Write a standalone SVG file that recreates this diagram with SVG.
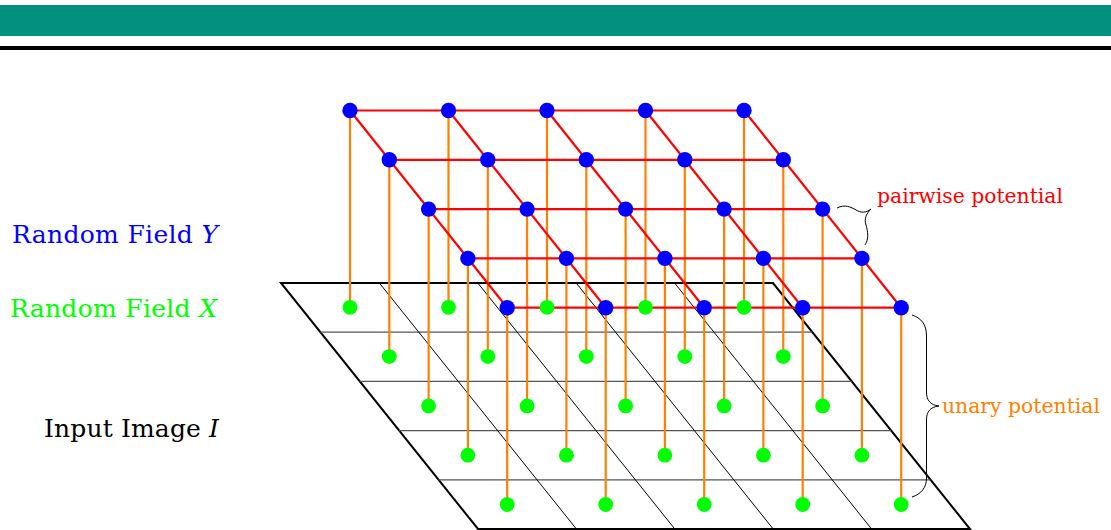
<svg xmlns="http://www.w3.org/2000/svg" width="1111" height="530" viewBox="0 0 1111 530">
<style>
.lbl{font-family:"DejaVu Serif","Liberation Serif",serif;font-size:25px}
.sm{font-size:21px}
.it{font-style:italic}
.plane{fill:none;stroke:#000;stroke-width:2;stroke-linejoin:miter}
.hl{stroke:#555;stroke-width:1.2}
.sl{stroke:#000;stroke-width:1}
.un{stroke:#ff8000;stroke-width:2.2}
.pw{stroke:#ff0000;stroke-width:2.2}
.y{fill:#0000ff}
.x{fill:#00ff00}
.brace{fill:none;stroke:#000;stroke-width:1}
</style>
<rect x="0" y="5" width="1111" height="31" fill="#03907f"/>
<rect x="0" y="46" width="1111" height="4" fill="#000"/>
<g id="input-image">
<polygon class="plane" points="281,283 773,283 970,529 478,529"/>
<line class="hl" x1="320.2" y1="332.2" x2="812.2" y2="332.2"/>
<line class="hl" x1="359.6" y1="381.4" x2="851.6" y2="381.4"/>
<line class="hl" x1="399" y1="430.6" x2="891" y2="430.6"/>
<line class="hl" x1="438.4" y1="479.8" x2="930.4" y2="479.8"/>
<line class="sl" x1="379.4" y1="283" x2="576.4" y2="529"/>
<line class="sl" x1="477.8" y1="283" x2="674.8" y2="529"/>
<line class="sl" x1="576.2" y1="283" x2="773.2" y2="529"/>
<line class="sl" x1="674.6" y1="283" x2="871.6" y2="529"/>
</g>
<g id="connectors">
<g id="unary">
<line class="un" x1="350" y1="110.5" x2="350" y2="307.3"/>
<line class="un" x1="448.5" y1="110.5" x2="448.5" y2="307.3"/>
<line class="un" x1="547" y1="110.5" x2="547" y2="307.3"/>
<line class="un" x1="645.5" y1="110.5" x2="645.5" y2="307.3"/>
<line class="un" x1="744" y1="110.5" x2="744" y2="307.3"/>
<line class="un" x1="389.3" y1="159.8" x2="389.3" y2="356.6"/>
<line class="un" x1="487.8" y1="159.8" x2="487.8" y2="356.6"/>
<line class="un" x1="586.3" y1="159.8" x2="586.3" y2="356.6"/>
<line class="un" x1="684.8" y1="159.8" x2="684.8" y2="356.6"/>
<line class="un" x1="783.3" y1="159.8" x2="783.3" y2="356.6"/>
<line class="un" x1="428.6" y1="209.1" x2="428.6" y2="405.9"/>
<line class="un" x1="527.1" y1="209.1" x2="527.1" y2="405.9"/>
<line class="un" x1="625.6" y1="209.1" x2="625.6" y2="405.9"/>
<line class="un" x1="724.1" y1="209.1" x2="724.1" y2="405.9"/>
<line class="un" x1="822.6" y1="209.1" x2="822.6" y2="405.9"/>
<line class="un" x1="467.9" y1="258.4" x2="467.9" y2="455.2"/>
<line class="un" x1="566.4" y1="258.4" x2="566.4" y2="455.2"/>
<line class="un" x1="664.9" y1="258.4" x2="664.9" y2="455.2"/>
<line class="un" x1="763.4" y1="258.4" x2="763.4" y2="455.2"/>
<line class="un" x1="861.9" y1="258.4" x2="861.9" y2="455.2"/>
<line class="un" x1="507.2" y1="307.7" x2="507.2" y2="504.5"/>
<line class="un" x1="605.7" y1="307.7" x2="605.7" y2="504.5"/>
<line class="un" x1="704.2" y1="307.7" x2="704.2" y2="504.5"/>
<line class="un" x1="802.7" y1="307.7" x2="802.7" y2="504.5"/>
<line class="un" x1="901.2" y1="307.7" x2="901.2" y2="504.5"/>
</g>
<g id="pairwise">
<line class="pw" x1="350" y1="110.5" x2="744" y2="110.5"/>
<line class="pw" x1="389.3" y1="159.8" x2="783.3" y2="159.8"/>
<line class="pw" x1="428.6" y1="209.1" x2="822.6" y2="209.1"/>
<line class="pw" x1="467.9" y1="258.4" x2="861.9" y2="258.4"/>
<line class="pw" x1="507.2" y1="307.7" x2="901.2" y2="307.7"/>
<line class="pw" x1="350" y1="110.5" x2="507.2" y2="307.7"/>
<line class="pw" x1="448.5" y1="110.5" x2="605.7" y2="307.7"/>
<line class="pw" x1="547" y1="110.5" x2="704.2" y2="307.7"/>
<line class="pw" x1="645.5" y1="110.5" x2="802.7" y2="307.7"/>
<line class="pw" x1="744" y1="110.5" x2="901.2" y2="307.7"/>
</g>
</g>
<g id="field-x">
<g id="x-0-0"><circle class="x" cx="350" cy="307.3" r="7.4"/></g>
<g id="x-0-1"><circle class="x" cx="448.5" cy="307.3" r="7.4"/></g>
<g id="x-0-2"><circle class="x" cx="547" cy="307.3" r="7.4"/></g>
<g id="x-0-3"><circle class="x" cx="645.5" cy="307.3" r="7.4"/></g>
<g id="x-0-4"><circle class="x" cx="744" cy="307.3" r="7.4"/></g>
<g id="x-1-0"><circle class="x" cx="389.3" cy="356.6" r="7.4"/></g>
<g id="x-1-1"><circle class="x" cx="487.8" cy="356.6" r="7.4"/></g>
<g id="x-1-2"><circle class="x" cx="586.3" cy="356.6" r="7.4"/></g>
<g id="x-1-3"><circle class="x" cx="684.8" cy="356.6" r="7.4"/></g>
<g id="x-1-4"><circle class="x" cx="783.3" cy="356.6" r="7.4"/></g>
<g id="x-2-0"><circle class="x" cx="428.6" cy="405.9" r="7.4"/></g>
<g id="x-2-1"><circle class="x" cx="527.1" cy="405.9" r="7.4"/></g>
<g id="x-2-2"><circle class="x" cx="625.6" cy="405.9" r="7.4"/></g>
<g id="x-2-3"><circle class="x" cx="724.1" cy="405.9" r="7.4"/></g>
<g id="x-2-4"><circle class="x" cx="822.6" cy="405.9" r="7.4"/></g>
<g id="x-3-0"><circle class="x" cx="467.9" cy="455.2" r="7.4"/></g>
<g id="x-3-1"><circle class="x" cx="566.4" cy="455.2" r="7.4"/></g>
<g id="x-3-2"><circle class="x" cx="664.9" cy="455.2" r="7.4"/></g>
<g id="x-3-3"><circle class="x" cx="763.4" cy="455.2" r="7.4"/></g>
<g id="x-3-4"><circle class="x" cx="861.9" cy="455.2" r="7.4"/></g>
<g id="x-4-0"><circle class="x" cx="507.2" cy="504.5" r="7.4"/></g>
<g id="x-4-1"><circle class="x" cx="605.7" cy="504.5" r="7.4"/></g>
<g id="x-4-2"><circle class="x" cx="704.2" cy="504.5" r="7.4"/></g>
<g id="x-4-3"><circle class="x" cx="802.7" cy="504.5" r="7.4"/></g>
<g id="x-4-4"><circle class="x" cx="901.2" cy="504.5" r="7.4"/></g>
</g>
<g id="field-y">
<g id="y-0-0"><circle class="y" cx="350" cy="110.5" r="7.7"/></g>
<g id="y-0-1"><circle class="y" cx="448.5" cy="110.5" r="7.7"/></g>
<g id="y-0-2"><circle class="y" cx="547" cy="110.5" r="7.7"/></g>
<g id="y-0-3"><circle class="y" cx="645.5" cy="110.5" r="7.7"/></g>
<g id="y-0-4"><circle class="y" cx="744" cy="110.5" r="7.7"/></g>
<g id="y-1-0"><circle class="y" cx="389.3" cy="159.8" r="7.7"/></g>
<g id="y-1-1"><circle class="y" cx="487.8" cy="159.8" r="7.7"/></g>
<g id="y-1-2"><circle class="y" cx="586.3" cy="159.8" r="7.7"/></g>
<g id="y-1-3"><circle class="y" cx="684.8" cy="159.8" r="7.7"/></g>
<g id="y-1-4"><circle class="y" cx="783.3" cy="159.8" r="7.7"/></g>
<g id="y-2-0"><circle class="y" cx="428.6" cy="209.1" r="7.7"/></g>
<g id="y-2-1"><circle class="y" cx="527.1" cy="209.1" r="7.7"/></g>
<g id="y-2-2"><circle class="y" cx="625.6" cy="209.1" r="7.7"/></g>
<g id="y-2-3"><circle class="y" cx="724.1" cy="209.1" r="7.7"/></g>
<g id="y-2-4"><circle class="y" cx="822.6" cy="209.1" r="7.7"/></g>
<g id="y-3-0"><circle class="y" cx="467.9" cy="258.4" r="7.7"/></g>
<g id="y-3-1"><circle class="y" cx="566.4" cy="258.4" r="7.7"/></g>
<g id="y-3-2"><circle class="y" cx="664.9" cy="258.4" r="7.7"/></g>
<g id="y-3-3"><circle class="y" cx="763.4" cy="258.4" r="7.7"/></g>
<g id="y-3-4"><circle class="y" cx="861.9" cy="258.4" r="7.7"/></g>
<g id="y-4-0"><circle class="y" cx="507.2" cy="307.7" r="7.7"/></g>
<g id="y-4-1"><circle class="y" cx="605.7" cy="307.7" r="7.7"/></g>
<g id="y-4-2"><circle class="y" cx="704.2" cy="307.7" r="7.7"/></g>
<g id="y-4-3"><circle class="y" cx="802.7" cy="307.7" r="7.7"/></g>
<g id="y-4-4"><circle class="y" cx="901.2" cy="307.7" r="7.7"/></g>
</g>
<g id="braces">
<path class="brace" d="M837,208 C845,204 851,207 856,210 C861,213 866,213 871,209 C866,214 864,219 866,225 C868,232 869,239 865,245"/>
<path class="brace" d="M912,315 C921,318 926.5,324 926.5,336 L926.5,392 C926.5,400 930,405 939,406 C930,407 926.5,412 926.5,420 L926.5,478 C926.5,488 921,494 912,497"/>
</g>
<g id="labels">
<text class="lbl" x="12" y="243" textLength="206" fill="#0000ff">Random Field <tspan class="it">Y</tspan></text>
<text class="lbl" x="10" y="317" textLength="207" fill="#00ff00">Random Field <tspan class="it">X</tspan></text>
<text class="lbl" x="44" y="437" textLength="175" fill="#000">Input Image <tspan class="it">I</tspan></text>
<text class="lbl sm" x="877" y="203" textLength="186" lengthAdjust="spacingAndGlyphs" fill="#ff0000">pairwise potential</text>
<text class="lbl sm" x="942" y="413" textLength="158" lengthAdjust="spacingAndGlyphs" fill="#ff8000">unary potential</text>
</g>
</svg>
